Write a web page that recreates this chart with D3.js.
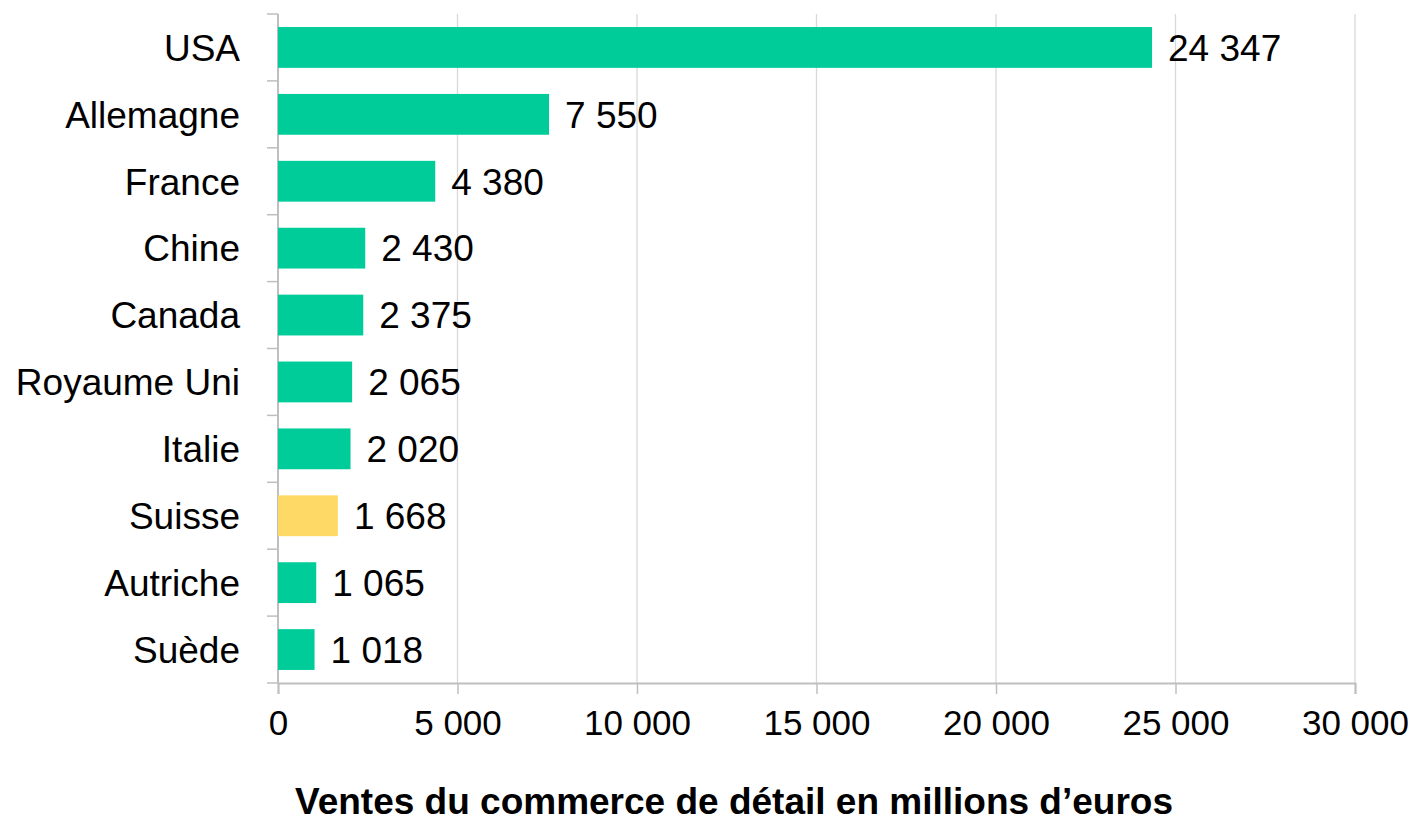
<!DOCTYPE html>
<html>
<head>
<meta charset="utf-8">
<script src="https://cdn.jsdelivr.net/npm/d3@7"></script>
<style>
  body { margin: 0; background: #fff; }
  #chart { width: 1417px; height: 822px; }
  text { font-family: "Liberation Sans", Arial, sans-serif; fill: #000; }
</style>
</head>
<body>
<div id="chart"></div>
<script>
//Datos
const pays = ['USA', 'Allemagne', 'France', 'Chine', 'Canada', 'Royaume Uni', 'Italie', 'Suisse', 'Autriche', 'Suède'];
const ventes = [24347, 7550, 4380, 2430, 2375, 2065, 2020, 1668, 1065, 1018];
const ticksX = [0, 5000, 10000, 15000, 20000, 25000, 30000];
const surligne = 'Suisse';

const COLOR_MAIN = '#00CC99',
    COLOR_HIGHLIGHT = '#FFD966',
    COLOR_GRID = '#d9d9d9',
    COLOR_AXIS = '#bfbfbf';

let data = pays.map(function(p, i) { return { pays: p, valeur: ventes[i] }; });

let margin = {top: 14, right: 62, bottom: 139, left: 278},
    width = 1417 - margin.left - margin.right,
    height = 822 - margin.top - margin.bottom;

let fr = d3.formatLocale({ decimal: ',', thousands: '\u00a0', grouping: [3], currency: ['', ' €'] });
let fmt = fr.format(',d');

let svg = d3.select('#chart')
    .append('svg')
      .attr('width', width + margin.left + margin.right)
      .attr('height', height + margin.top + margin.bottom)
    .append('g')
      .attr('transform', 'translate(' + margin.left + ',' + margin.top + ')');

let x = d3.scaleLinear()
    .domain([0, 30000])
    .range([0, width]);

let y = d3.scaleBand()
    .domain(pays)
    .range([0, height])
    .paddingInner(0.39)
    .paddingOuter(0.195);

//Grille verticale
svg.append('g')
    .selectAll('line')
    .data(ticksX.slice(1))
    .enter()
    .append('line')
      .attr('x1', function(d) { return x(d); })
      .attr('x2', function(d) { return x(d); })
      .attr('y1', 0)
      .attr('y2', height)
      .attr('stroke', COLOR_GRID)
      .attr('stroke-width', 1.3);

//Axe X
let xAxis = svg.append('g')
    .attr('transform', 'translate(0,' + height + ')')
    .call(d3.axisBottom(x).tickValues(ticksX).tickFormat(fmt).tickSize(11).tickPadding(16));

xAxis.select('.domain').attr('stroke', COLOR_AXIS).attr('stroke-width', 2);
xAxis.selectAll('.tick line').attr('stroke', COLOR_AXIS).attr('stroke-width', 1.5);
xAxis.selectAll('.tick text')
    .style('font-size', '35px')
    .attr('font-family', null)
    .attr('fill', '#000');

//Axe Y (libellés + traits entre catégories)
let yAxis = svg.append('g');

yAxis.append('line')
    .attr('x1', 0).attr('x2', 0)
    .attr('y1', 0).attr('y2', height)
    .attr('stroke', COLOR_AXIS)
    .attr('stroke-width', 2);

yAxis.selectAll('.sep')
    .data(d3.range(pays.length + 1))
    .enter()
    .append('line')
      .attr('class', 'sep')
      .attr('x1', -11).attr('x2', 0)
      .attr('y1', function(i) { return y.range()[0] + i * y.step(); })
      .attr('y2', function(i) { return y.range()[0] + i * y.step(); })
      .attr('stroke', COLOR_AXIS)
      .attr('stroke-width', 1.5);

yAxis.selectAll('.lab')
    .data(pays)
    .enter()
    .append('text')
      .attr('class', 'lab')
      .attr('x', -38)
      .attr('y', function(d) { return y(d) + y.bandwidth() / 2; })
      .attr('dy', '0.36em')
      .attr('text-anchor', 'end')
      .style('font-size', '37px')
      .text(function(d) { return d; });

//Barres
svg.append('g')
    .selectAll('rect')
    .data(data)
    .enter()
    .append('rect')
      .attr('x', x(0))
      .attr('y', function(d) { return y(d.pays); })
      .attr('width', function(d) { return x(d.valeur) - x(0); })
      .attr('height', y.bandwidth())
      .attr('fill', function(d) { return d.pays === surligne ? COLOR_HIGHLIGHT : COLOR_MAIN; });

//Valeurs
svg.append('g')
    .selectAll('text')
    .data(data)
    .enter()
    .append('text')
      .attr('x', function(d) { return x(d.valeur) + 16; })
      .attr('y', function(d) { return y(d.pays) + y.bandwidth() / 2; })
      .attr('dy', '0.36em')
      .style('font-size', '37px')
      .text(function(d) { return fmt(d.valeur); });

//Titre de l'axe
svg.append('text')
    .attr('x', 734 - margin.left)
    .attr('y', 801 - margin.top)
    .attr('dy', '0.35em')
    .attr('text-anchor', 'middle')
    .style('font-size', '37px')
    .style('font-weight', 'bold')
    .text('Ventes du commerce de détail en millions d’euros');
</script>
</body>
</html>
